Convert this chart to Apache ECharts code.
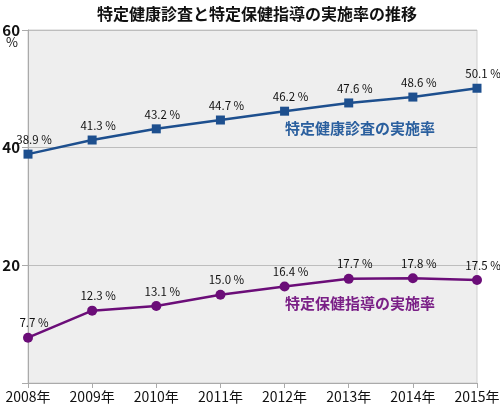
<!DOCTYPE html>
<html><head><meta charset="utf-8">
<script src="https://cdn.jsdelivr.net/npm/echarts@6/dist/echarts.min.js"></script>
<style>html,body{margin:0;padding:0;background:#fff}#c{width:500px;height:408px}</style>
</head><body><div id="c"></div>
<script>
const years = ['2008年','2009年','2010年','2011年','2012年','2013年','2014年','2015年'];
const kenshin = [38.9, 41.3, 43.2, 44.7, 46.2, 47.6, 48.6, 50.1];
const shido = [7.7, 12.3, 13.1, 15.0, 16.4, 17.7, 17.8, 17.5];
const yTicks = [0, 20, 40, 60];
const titleText = '特定健康診査と特定保健指導の実施率の推移';
const name1 = '特定健康診査の実施率';
const name2 = '特定保健指導の実施率';
const FONT = '"Noto Sans CJK JP", "Noto Sans", sans-serif';

const chart = echarts.init(document.getElementById('c'), null, {renderer: 'canvas'});
const lbl = {show: true, position: 'top', distance: 4, offset: [6, 0], fontSize: 11.5, color: '#111', fontFamily: FONT,
  formatter: p => p.value.toFixed(1) + ' %'};
chart.setOption({
  animation: false,
  title: {text: titleText, left: 252, top: 1, textAlign: 'center',
    textStyle: {fontSize: 16, fontWeight: 'bold', color: '#111', fontFamily: FONT}},
  grid: {left: 28, right: 23, top: 30, bottom: 25, containLabel: false, outerBoundsMode: 'none',
    show: true, backgroundColor: '#eeeeee', borderColor: '#cfcfcf', borderWidth: 1},
  xAxis: {type: 'category', data: years, boundaryGap: false,
    axisLine: {lineStyle: {color: '#aaaaaa', width: 1}},
    axisTick: {show: true, alignWithLabel: true, length: 5, lineStyle: {color: '#aaaaaa'}},
    axisLabel: {fontSize: 14, color: '#111', fontFamily: FONT, margin: 7, interval: 0},
    splitLine: {show: false}},
  yAxis: {type: 'value', min: yTicks[0], max: yTicks[3], interval: 20,
    axisLine: {show: true, lineStyle: {color: '#aaaaaa'}},
    axisTick: {show: true, length: 6, lineStyle: {color: '#aaaaaa'}},
    axisLabel: {fontSize: 15, fontWeight: 'bold', color: '#111', fontFamily: FONT, margin: 8,
      formatter: v => v === 0 ? '' : String(v)},
    splitLine: {show: true, lineStyle: {color: '#bdbdbd', width: 1}}},
  graphic: [
    {type: 'text', left: 6, top: 36, style: {text: '%', fontSize: 13, fill: '#111', fontFamily: FONT}},
    {type: 'text', left: 285, top: 121, style: {text: name1, fontSize: 15, fontWeight: 'bold', fill: '#2a5f9e', fontFamily: FONT}},
    {type: 'text', left: 285, top: 296, style: {text: name2, fontSize: 15, fontWeight: 'bold', fill: '#7a1f86', fontFamily: FONT}}
  ],
  series: [
    {type: 'line', data: kenshin, symbol: 'rect', symbolSize: 9, lineStyle: {color: '#1d4f8e', width: 2.5},
      itemStyle: {color: '#1d4f8e'}, label: lbl},
    {type: 'line', data: shido, symbol: 'circle', symbolSize: 10, lineStyle: {color: '#6b0d78', width: 2.5},
      itemStyle: {color: '#6b0d78'}, label: lbl}
  ]
});
</script></body></html>
